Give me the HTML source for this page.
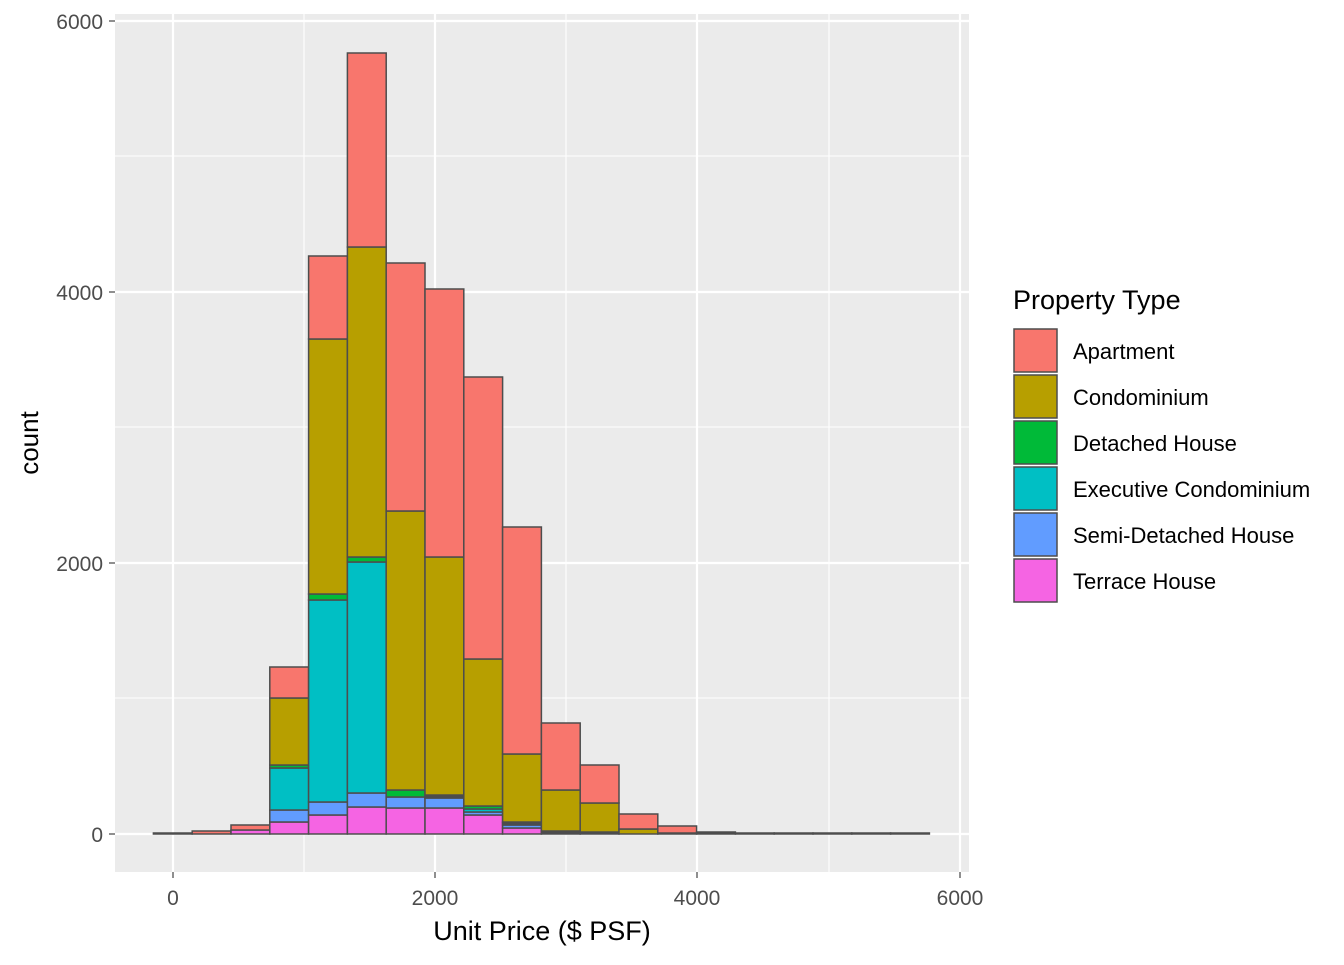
<!DOCTYPE html>
<html><head><meta charset="utf-8"><style>
body{margin:0;background:#fff;}
svg text{font-family:"Liberation Sans",sans-serif;}
</style></head><body>
<svg id="s" width="1344" height="960" xmlns="http://www.w3.org/2000/svg">
<rect x="0" y="0" width="1344" height="960" fill="#fff"/>
<rect x="115" y="14" width="854" height="858" fill="#EBEBEB"/>
<g stroke="#fff" stroke-width="1.1">
<line x1="304" y1="14" x2="304" y2="872"/><line x1="566" y1="14" x2="566" y2="872"/><line x1="829" y1="14" x2="829" y2="872"/>
<line x1="115" y1="698" x2="969" y2="698"/><line x1="115" y1="427" x2="969" y2="427"/><line x1="115" y1="156" x2="969" y2="156"/>
</g>
<g stroke="#fff" stroke-width="2.2">
<line x1="173" y1="14" x2="173" y2="872"/><line x1="435" y1="14" x2="435" y2="872"/><line x1="697" y1="14" x2="697" y2="872"/><line x1="960" y1="14" x2="960" y2="872"/>
<line x1="115" y1="834" x2="969" y2="834"/><line x1="115" y1="563" x2="969" y2="563"/><line x1="115" y1="292" x2="969" y2="292"/><line x1="115" y1="21" x2="969" y2="21"/>
</g>
<g id="bars" stroke="#4D4D4D" stroke-width="1.5"></g>
<g stroke="#333" stroke-width="1.1">
<line x1="109" y1="834" x2="115" y2="834"/><line x1="109" y1="563" x2="115" y2="563"/><line x1="109" y1="292" x2="115" y2="292"/><line x1="109" y1="21" x2="115" y2="21"/>
<line x1="173" y1="872" x2="173" y2="878"/><line x1="435" y1="872" x2="435" y2="878"/><line x1="697" y1="872" x2="697" y2="878"/><line x1="960" y1="872" x2="960" y2="878"/>
</g>
<g font-size="21" fill="#4D4D4D" text-anchor="end">
<text x="103" y="842">0</text><text x="103" y="571">2000</text><text x="103" y="300">4000</text><text x="103" y="29">6000</text>
</g>
<g font-size="21" fill="#4D4D4D" text-anchor="middle">
<text x="173" y="905">0</text><text x="435" y="905">2000</text><text x="697" y="905">4000</text><text x="960" y="905">6000</text>
</g>
<text x="542" y="940" font-size="27" text-anchor="middle" fill="#000">Unit Price ($ PSF)</text>
<text transform="translate(38,443) rotate(-90)" font-size="26" text-anchor="middle" fill="#000">count</text>
<text x="1013" y="309" font-size="27" fill="#000">Property Type</text>
<g id="leg"></g>
</svg>
<script>
var cols=["#F564E3","#619CFF","#00BFC4","#00BA38","#B79F00","#F8766D"];
var d=[
[834,834,834,834,834,833],
[834,834,834,834,834,831],
[830,830,830,830,830,825],
[822,810,768,765,698,667],
[815,802,600,594,339,256],
[807,793,562,557,247,53],
[808,797,797,790,511,263],
[808,798,797,795,557,289],
[815,812,809,806,659,377],
[828,825,823,822,754,527],
[832,832,831,831,790,723],
[832,832,832,832,803,765],
[834,834,834,834,829,814],
[834,834,834,834,833,826],
[834,834,834,834,834,832],
[834,834,834,834,834,833],
[834,834,834,834,834,833],
[834,834,834,834,834,833],
[834,834,834,834,834,833],
[834,834,834,834,834,833]];
var g=document.getElementById("bars"),ns="http://www.w3.org/2000/svg",W=38.8;
d.forEach(function(b,k){var x=153.4+W*k,prev=834;
 for(var i=0;i<6;i++){var t=b[i];var h=prev-t;
  var r=document.createElementNS(ns,"rect");r.setAttribute("x",x);r.setAttribute("width",W);
  r.setAttribute("y",t);r.setAttribute("height",Math.max(h,0));r.setAttribute("fill",h<=2?"#4D4D4D":cols[i]);
  if(h>0){g.appendChild(r);} prev=t;}
});
var L=document.getElementById("leg"),names=["Apartment","Condominium","Detached House","Executive Condominium","Semi-Detached House","Terrace House"],lc=["#F8766D","#B79F00","#00BA38","#00BFC4","#619CFF","#F564E3"];
names.forEach(function(n,i){var y=329+46*i;
 var r=document.createElementNS(ns,"rect");r.setAttribute("x",1014);r.setAttribute("y",y);r.setAttribute("width",43);r.setAttribute("height",43);r.setAttribute("fill",lc[i]);r.setAttribute("stroke","#4D4D4D");r.setAttribute("stroke-width","1.5");L.appendChild(r);
 var t=document.createElementNS(ns,"text");t.setAttribute("x",1073);t.setAttribute("y",y+30);t.setAttribute("font-size","22");t.textContent=n;L.appendChild(t);});
</script>
</body></html>
